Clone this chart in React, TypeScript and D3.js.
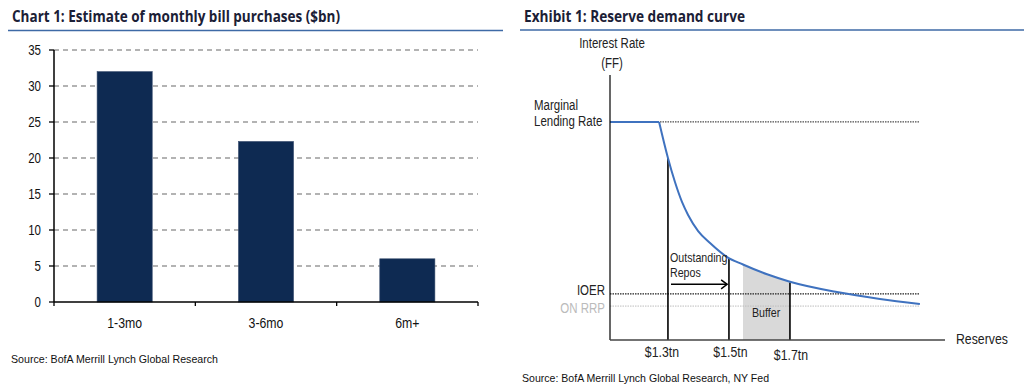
import React from 'react';
import * as d3 from 'd3';

// ---------- Left chart data ----------
const categories = ['1-3mo', '3-6mo', '6m+'];
const purchases = [32, 22.3, 6];
const yTicks = [0, 5, 10, 15, 20, 25, 30, 35];

// ---------- Right chart data (conceptual curve) ----------
const curveReserves = [1.11, 1.271, 1.3, 1.323, 1.346, 1.366, 1.399, 1.438, 1.494, 1.546, 1.625, 1.7, 1.854, 1.995, 2.126];
const curveRates = [8.23, 8.23, 6.87, 5.96, 5.21, 4.72, 4.11, 3.66, 3.13, 2.85, 2.48, 2.2, 1.81, 1.55, 1.36];
const reserveTicks = [1.3, 1.5, 1.7];
const reserveTickLabels = ['$1.3tn', '$1.5tn', '$1.7tn'];
const reserveTickTops = [6.87, 3.06, 2.17];
const levelNames = ['Marginal Lending Rate', 'IOER', 'ON RRP'];
const levelRates = [8.23, 1.74, 1.28];
const bufferRange = [1.546, 1.7];
const repoArrow = [1.31, 1.494];
const repoArrowRate = 2.1;

const SANS = "'Liberation Sans', Arial, sans-serif";
const TITLE_FONT = "'Open Sans', 'Noto Sans', sans-serif";
const TITLE_COLOR = '#1b2036';
const RULE_COLOR = '#3e6aa6';

type NTProps = {
  x: number; y: number; size: number; anchor?: 'start' | 'middle' | 'end';
  fill?: string; sx?: number; dy?: string; children: React.ReactNode;
};
function NT({ x, y, size, anchor = 'start', fill = '#222', sx = 0.82, dy, children }: NTProps) {
  return (
    <text transform={`translate(${x},${y}) scale(${sx},1)`} textAnchor={anchor} dy={dy}
      fontFamily={SANS} fontSize={size} fill={fill}>{children}</text>
  );
}

function LeftChart() {
  const x = d3.scaleBand<string>().domain(categories).range([54, 478]).paddingInner(0.61).paddingOuter(0.305);
  const xb = d3.scaleBand<string>().domain(categories).range([54, 478]).padding(0);
  const y = d3.scaleLinear().domain([0, 35]).range([302, 50]);
  const xTickPos = [54, ...categories.map((c) => (xb(c) as number) + xb.bandwidth())];
  return (
    <g>
      <text x={12} y={22} fontFamily={TITLE_FONT} fontWeight={700} fontSize={16} fill={TITLE_COLOR}
        textLength={328} lengthAdjust="spacingAndGlyphs">Chart 1: Estimate of monthly bill purchases ($bn)</text>
      <line x1={8} x2={503} y1={30.5} y2={30.5} stroke={RULE_COLOR} strokeWidth={1.5} />
      {yTicks.filter((t) => t > 0).map((t) => (
        <line key={'g' + t} x1={54} x2={478} y1={y(t)} y2={y(t)} stroke="#9a9a9a" strokeWidth={1.3} strokeDasharray="5,4" />
      ))}
      {categories.map((c, i) => (
        <rect key={c} x={x(c)} y={y(purchases[i])} width={x.bandwidth()} height={y(0) - y(purchases[i])}
          fill="#0e2a52" stroke="#3a4f70" strokeWidth={0.6} />
      ))}
      <line x1={54} x2={54} y1={y(35)} y2={y(0)} stroke="#000" strokeWidth={1.5} />
      <line x1={54} x2={478} y1={y(0)} y2={y(0)} stroke="#000" strokeWidth={1.5} />
      {yTicks.map((t) => (
        <g key={'t' + t}>
          <line x1={49} x2={54} y1={y(t)} y2={y(t)} stroke="#000" strokeWidth={1.3} />
          <NT x={41} y={y(t)} dy="0.36em" anchor="end" size={14} fill="#111">{t}</NT>
        </g>
      ))}
      {xTickPos.map((p, i) => (
        <line key={'xt' + i} x1={p} x2={p} y1={y(0)} y2={y(0) + 4} stroke="#000" strokeWidth={1.3} />
      ))}
      {categories.map((c) => (
        <NT key={'l' + c} x={(xb(c) as number) + xb.bandwidth() / 2} y={328} anchor="middle" size={15} fill="#111">{c}</NT>
      ))}
      <text x={11} y={363} fontFamily={SANS} fontSize={11.5} fill="#111"
        textLength={207} lengthAdjust="spacingAndGlyphs">Source:  BofA Merrill Lynch Global Research</text>
    </g>
  );
}

function RightChart() {
  const x = d3.scaleLinear().domain([1.11, 2.21]).range([610, 945.5]);
  const y = d3.scaleLinear().domain([0, 10]).range([340, 75]);
  const pts: [number, number][] = curveReserves.map((r, i) => [r, curveRates[i]]);
  const flat = d3.line<[number, number]>().x((d) => x(d[0])).y((d) => y(d[1]))(pts.slice(0, 2)) as string;
  const decay = d3.line<[number, number]>().x((d) => x(d[0])).y((d) => y(d[1])).curve(d3.curveMonotoneX)(pts.slice(1)) as string;
  const area = d3.area<[number, number]>().x((d) => x(d[0])).y0(y(0)).y1((d) => y(d[1])).curve(d3.curveMonotoneX)(pts.slice(1)) as string;
  const lineEnd = x(curveReserves[curveReserves.length - 1]);
  const arrowY = y(repoArrowRate);
  const ax1 = x(repoArrow[0]);
  const ax2 = x(repoArrow[1]);
  const labelShift = [-6, 1.5, 1];
  return (
    <g>
      <defs>
        <clipPath id="bufferClip">
          <rect x={x(bufferRange[0])} y={0} width={x(bufferRange[1]) - x(bufferRange[0])} height={390} />
        </clipPath>
      </defs>
      <text x={524} y={22} fontFamily={TITLE_FONT} fontWeight={700} fontSize={16} fill={TITLE_COLOR}
        textLength={221} lengthAdjust="spacingAndGlyphs">Exhibit 1: Reserve demand curve</text>
      <line x1={520} x2={1024} y1={30} y2={30} stroke={RULE_COLOR} strokeWidth={1.5} />

      <path d={area} fill="#d9d9d9" clipPath="url(#bufferClip)" />

      {/* reference levels */}
      <line x1={610} x2={lineEnd} y1={y(levelRates[0])} y2={y(levelRates[0])} stroke="#222" strokeWidth={1} strokeDasharray="1.5,1" />
      <line x1={610} x2={lineEnd} y1={y(levelRates[1])} y2={y(levelRates[1])} stroke="#222" strokeWidth={1.2} strokeDasharray="1.5,1" />
      <line x1={610} x2={lineEnd} y1={y(levelRates[2])} y2={y(levelRates[2])} stroke="#bdbdbd" strokeWidth={1} strokeDasharray="1.5,1" />

      {/* vertical reserve markers */}
      {reserveTicks.map((r, i) => (
        <line key={'v' + r} x1={x(r)} x2={x(r)} y1={y(0)} y2={y(reserveTickTops[i])} stroke="#000" strokeWidth={1.6} />
      ))}

      <path d={flat} fill="none" stroke="#3f72bf" strokeWidth={2} />
      <path d={decay} fill="none" stroke="#3f72bf" strokeWidth={2} />

      {/* axes */}
      <line x1={610} x2={610} y1={75} y2={340} stroke="#000" strokeWidth={1.2} />
      <line x1={610} x2={945} y1={340} y2={340} stroke="#444" strokeWidth={1.5} />

      {/* arrow */}
      <line x1={ax1} x2={ax2} y1={arrowY} y2={arrowY} stroke="#000" strokeWidth={1.5} />
      <path d={`M${ax2 - 6},${arrowY - 4.5} L${ax2},${arrowY} L${ax2 - 6},${arrowY + 4.5}`} fill="none" stroke="#000" strokeWidth={1.5} />

      {/* labels */}
      <NT x={612} y={48} anchor="middle" size={14}>Interest Rate</NT>
      <NT x={612} y={68} anchor="middle" size={14}>(FF)</NT>
      <NT x={534} y={110} size={14}>Marginal</NT>
      <NT x={534} y={126} size={14}>Lending Rate</NT>
      <NT x={605} y={295} anchor="end" size={14}>{levelNames[1]}</NT>
      <NT x={605} y={313} anchor="end" size={14} fill="#bbbbbb">{levelNames[2]}</NT>
      <NT x={956} y={344} size={15}>Reserves</NT>
      {reserveTicks.map((r, i) => (
        <NT key={'rl' + r} x={x(r) + labelShift[i]} y={357 + (i === 2 ? 2.5 : 0)} anchor="middle" size={15}>{reserveTickLabels[i]}</NT>
      ))}
      <NT x={670} y={262} size={13}>Outstanding</NT>
      <NT x={670} y={277} size={13}>Repos</NT>
      <NT x={752} y={317} size={13}>Buffer</NT>
      <text x={522} y={382} fontFamily={SANS} fontSize={11.5} fill="#111"
        textLength={247} lengthAdjust="spacingAndGlyphs">Source:  BofA Merrill Lynch Global Research, NY Fed</text>
    </g>
  );
}

export default function App() {
  return (
    <svg width={1024} height={390} viewBox="0 0 1024 390"
      style={{ position: 'absolute', left: 0, top: 0, background: '#fff' }}>
      <rect x={0} y={0} width={1024} height={390} fill="#fff" />
      <LeftChart />
      <RightChart />
    </svg>
  );
}
